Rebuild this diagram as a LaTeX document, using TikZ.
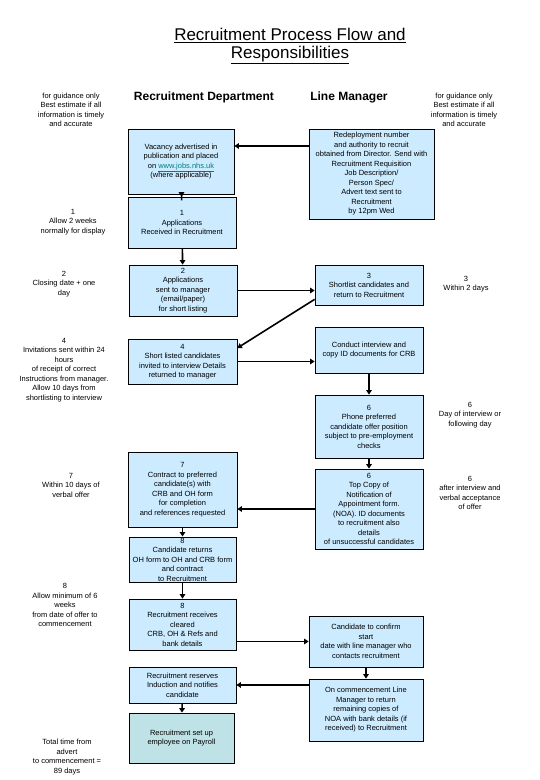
\documentclass[tikz,border=0pt]{standalone}
\usepackage{fontspec}
\setmainfont{Liberation Sans}
\usepackage{tikz}
\usetikzlibrary{arrows.meta}
\definecolor{boxblue}{HTML}{CCEBFF}
\definecolor{payteal}{HTML}{BFE2E6}
\definecolor{linkteal}{HTML}{00807F}

\begin{document}
\begin{tikzpicture}[x=1pt, y=-1pt,
    stepbox/.style={draw, line width=0.7pt, fill=boxblue, align=center,
      inner sep=1pt, font=\fontsize{7.5}{9.5}\selectfont},
    sidenote/.style={align=center, inner sep=0pt, font=\fontsize{7.5}{9.5}\selectfont},
    flow/.style={line width=1.6pt, -{Triangle[length=4.5pt,width=5.5pt]}}]
    \useasboundingbox (0,0) rectangle (540,780);
    \fill[white] (0,0) rectangle (540,780);

    % title and column headings
    \node[align=center, font=\fontsize{17}{18}\selectfont] (title) at (290, 46)
      {\underline{Recruitment Process Flow and}\\\underline{Responsibilities}};
    \node[font=\bfseries\fontsize{12}{13}\selectfont] (hdrRec) at (204, 97) {Recruitment Department};
    \node[font=\bfseries\fontsize{12}{13}\selectfont] (hdrLM) at (349, 97) {Line Manager};
    \node[sidenote] (guideL) at (71, 110)
      {for guidance only\\Best estimate if all\\information is timely\\and accurate};
    \node[sidenote] (guideR) at (464, 110)
      {for guidance only\\Best estimate if all\\information is timely\\and accurate};

    % recruitment department column
    \node[stepbox, minimum width=106, minimum height=65] (vac) at (181, 161.5)
      {Vacancy advertised in\\publication and placed\\on \textcolor{linkteal}{\underline{www.jobs.nhs.uk}}\\(where applicable)};
    \node[stepbox, minimum width=108, minimum height=51] (app1) at (182, 222.5)
      {1\\Applications\\Received in Recruitment};
    \node[stepbox, minimum width=108, minimum height=51] (app2) at (183, 290.5)
      {2\\Applications\\sent to manager\\(email/paper)\\for short listing};
    \node[stepbox, minimum width=109, minimum height=45] (short4) at (182.5, 361.5)
      {4\\Short listed candidates\\invited to interview Details\\returned to manager};
    \node[stepbox, minimum width=109, minimum height=75] (cont7) at (182.5, 489.5)
      {7\\Contract to preferred\\candidate(s) with\\CRB and OH form\\for completion\\and references requested};
    \node[stepbox, minimum width=107, minimum height=45] (ret8) at (182.5, 559.5)
      {8\\Candidate returns\\OH form to OH and CRB form\\and contract\\to Recruitment};
    \node[stepbox, minimum width=107, minimum height=51] (rec8) at (182.5, 624.5)
      {8\\Recruitment receives\\cleared\\CRB, OH \& Refs and\\bank details};
    \node[stepbox, minimum width=107, minimum height=36] (resv) at (182.5, 685)
      {Recruitment reserves\\Induction and notifies\\candidate};
    \node[stepbox, fill=payteal, minimum width=105, minimum height=50] (pay) at (181.5, 738)
      {Recruitment set up\\employee on Payroll};

    % line manager column
    \node[stepbox, minimum width=125, minimum height=90] (redep) at (371.5, 174)
      {Redeployment number\\and authority to recruit\\obtained from Director. Send with\\Recruitment Requisition\\Job Description/\\Person Spec/\\Advert text sent to\\Recruitment\\by 12pm Wed};
    \node[stepbox, minimum width=108, minimum height=40] (sl3) at (369, 285)
      {3\\Shortlist candidates and\\return to Recruitment};
    \node[stepbox, minimum width=108, minimum height=46] (intv) at (369, 350)
      {Conduct interview and\\copy ID documents for CRB};
    \node[stepbox, minimum width=108, minimum height=63] (phone6) at (369, 426.5)
      {6\\Phone preferred\\candidate offer position\\subject to pre-employment\\checks};
    \node[stepbox, minimum width=108, minimum height=80] (noa6) at (369, 509)
      {6\\Top Copy of\\Notification of\\Appointment form.\\(NOA). ID documents\\to recruitment also\\details\\of unsuccessful candidates};
    \node[stepbox, minimum width=114, minimum height=51] (conf) at (366, 641.5)
      {Candidate to confirm\\start\\date with line manager who\\contacts recruitment};
    \node[stepbox, minimum width=114, minimum height=62] (comm) at (366, 710)
      {On commencement Line\\Manager to return\\remaining copies of\\NOA with bank details (if\\received) to Recruitment};

    % timing notes
    \node[sidenote] (note1) at (73, 222) {1\\Allow 2 weeks\\normally for display};
    \node[sidenote] (note2) at (64, 284) {2\\Closing date + one\\day};
    \node[sidenote] (note4) at (64, 370)
      {4\\Invitations sent within 24\\hours\\of receipt of correct\\Instructions from manager.\\Allow 10 days from\\shortlisting to interview};
    \node[sidenote] (note7) at (71, 485) {7\\Within 10 days of\\verbal offer};
    \node[sidenote] (note8) at (65, 605)
      {8\\Allow minimum of 6\\weeks\\from date of offer to\\commencement};
    \node[sidenote] (total) at (67, 757)
      {Total time from\\advert\\to commencement =\\89 days};
    \node[sidenote] (note3) at (466, 284) {3\\Within 2 days};
    \node[sidenote] (note6a) at (470, 415) {6\\Day of interview or\\following day};
    \node[sidenote] (note6b) at (470, 493) {6\\after interview and\\verbal acceptance\\of offer};

    % connectors
    \draw[flow] ([yshift=15.5pt]redep.west |- vac.east) -- ([yshift=15.5pt]vac.east);
    \draw[flow, shorten <=-6pt] (vac) -- (app1);
    \draw[flow] (app1) -- (app2);
    \draw[flow] (app2.east) -- (app2.east -| sl3.west);
    \draw[flow] ([yshift=6pt]sl3.south west) -- ([yshift=13.5pt]short4.east);
    \draw[flow] (short4.east) -- (short4.east -| intv.west);
    \draw[flow] (intv) -- (phone6);
    \draw[flow] (phone6) -- (noa6);
    \draw[flow] (noa6.west) -- (noa6.west -| cont7.east);
    \draw[flow] (cont7) -- (ret8);
    \draw[flow] (ret8) -- (rec8);
    \draw[flow] (rec8.east |- conf.west) -- (conf.west);
    \draw[flow] (conf) -- (comm);
    \draw[flow] (comm.west |- resv.east) -- (resv.east);
    \draw[flow] (resv) -- (pay);
\end{tikzpicture}
\end{document}
